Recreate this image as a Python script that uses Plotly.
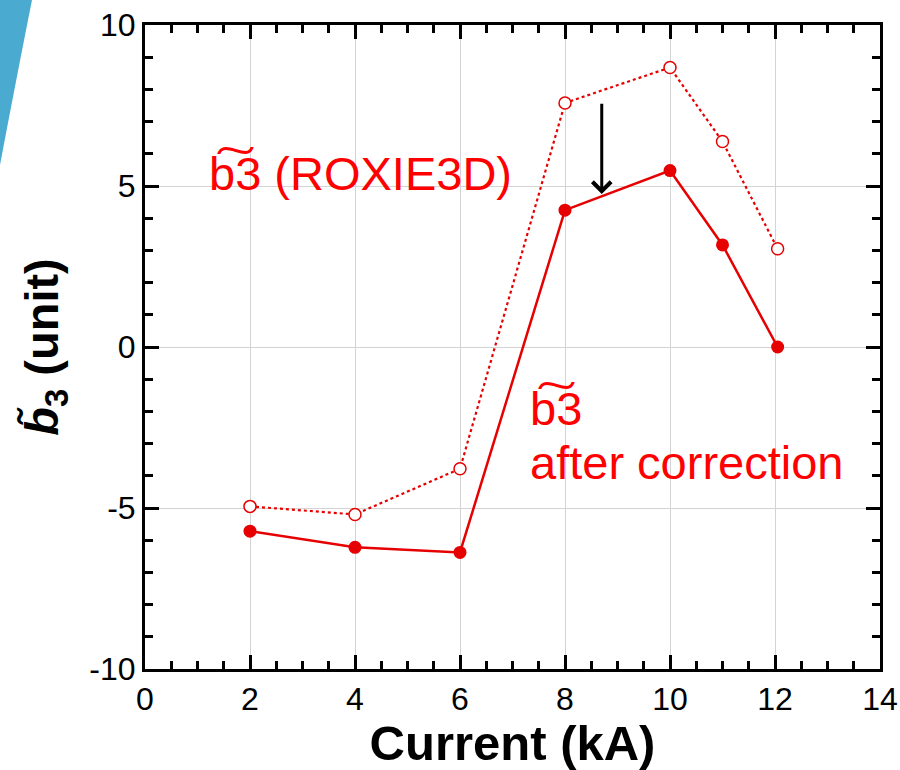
import plotly.graph_objects as go

current = [2, 4, 6, 8, 10, 11, 12.05]
b3_roxie = [-4.95, -5.2, -3.78, 7.58, 8.68, 6.38, 3.05]
b3_corr = [-5.72, -6.22, -6.38, 4.25, 5.48, 3.17, 0.0]
x_ticks = [0, 2, 4, 6, 8, 10, 12, 14]
y_ticks = [-10, -5, 0, 5, 10]

W, H = 900, 770
ML, MR, MT, MB = 145, 20, 25, 101
PW, PH = W - ML - MR, H - MT - MB

def px(x):
    return (x - ML) / PW

def py(y):
    return (H - MB - y) / PH

red = "#e60000"
FONT = "Liberation Sans"

fig = go.Figure()
fig.add_trace(go.Scatter(
    x=current, y=b3_roxie, mode="lines+markers",
    line=dict(color=red, width=2.2, dash="dot"),
    marker=dict(symbol="circle", size=12, color="white", line=dict(width=1.5, color=red)),
    showlegend=False))
fig.add_trace(go.Scatter(
    x=current, y=b3_corr, mode="lines+markers",
    line=dict(color=red, width=2.5),
    marker=dict(symbol="circle", size=13, color=red),
    showlegend=False))

axis_common = dict(
    showline=True, linecolor="black", linewidth=3, mirror="ticks",
    ticks="inside", ticklen=14, tickwidth=3, tickcolor="black",
    showgrid=True, gridcolor="#d3d3d3", gridwidth=1, zeroline=False,
    tickfont=dict(family=FONT, size=32, color="black"),
    automargin=False,
)

fig.update_xaxes(
    range=[0, 14], tickvals=x_ticks, ticktext=[str(v) for v in x_ticks],
    minor=dict(dtick=0.5, ticks="inside", ticklen=8, tickwidth=3, tickcolor="black", showgrid=False),
    title=dict(text="<b>Current (kA)</b>", font=dict(family=FONT, size=49, color="black"), standoff=10),
    **axis_common)
fig.update_yaxes(
    range=[-10, 10], tickvals=y_ticks, ticktext=[str(v) for v in y_ticks],
    minor=dict(dtick=1, ticks="inside", ticklen=8, tickwidth=3, tickcolor="black", showgrid=False),
    title=dict(text="<b><i>b\u0303</i><sub>3</sub> (unit)</b>", font=dict(family=FONT, size=47, color="black"), standoff=16),
    **axis_common)

ann_font = dict(family=FONT, size=47, color="#ff0000")
fig.add_annotation(x=1.18, y=5.4, text="b\u03603 (ROXIE3D)", showarrow=False,
                   xanchor="left", yanchor="middle", font=ann_font)
fig.add_annotation(x=7.3, y=-1.9, text="b\u03603", showarrow=False,
                   xanchor="left", yanchor="middle", font=ann_font)
fig.add_annotation(x=7.3, y=-3.6, text="after correction", showarrow=False,
                   xanchor="left", yanchor="middle", font=ann_font)
fig.add_annotation(x=8.7, y=4.75, ax=8.7, ay=7.6, axref="x", ayref="y",
                   xref="x", yref="y", text="", showarrow=True,
                   arrowhead=4, arrowsize=1.2, arrowwidth=3, arrowcolor="black")

path = (f"M {px(-5)},{py(-5)} L {px(33)},{py(-5)} "
        f"Q {px(18)},{py(70)} {px(0)},{py(165)} L {px(-5)},{py(165)} Z")
fig.add_shape(type="path", path=path, xref="paper", yref="paper",
              fillcolor="#4aaad0", line=dict(width=0), layer="below")

fig.update_layout(
    width=W, height=H, margin=dict(l=ML, r=MR, t=MT, b=MB),
    paper_bgcolor="white", plot_bgcolor="white",
    font=dict(family=FONT, color="black"),
)

fig.write_html("out.html")
